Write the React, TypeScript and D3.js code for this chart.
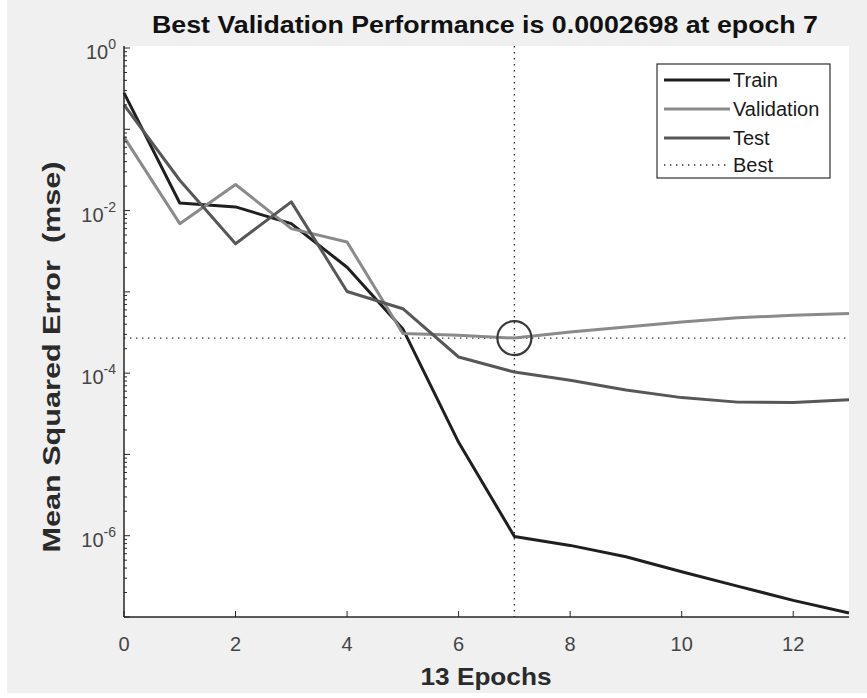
import React from "react";
import * as d3 from "d3";

const epochs = [0, 1, 2, 3, 4, 5, 6, 7, 8, 9, 10, 11, 12, 13];
const trainMse = [0.28, 0.0124, 0.0111, 0.0069, 0.00201, 0.00035, 1.41e-5, 9.8e-7, 7.6e-7, 5.5e-7, 3.6e-7, 2.4e-7, 1.6e-7, 1.12e-7];
const validationMse = [0.08, 0.0069, 0.0209, 0.006, 0.0041, 3.07e-4, 2.92e-4, 2.698e-4, 3.2e-4, 3.7e-4, 4.27e-4, 4.8e-4, 5.15e-4, 5.4e-4];
const testMse = [0.2, 0.0236, 0.0039, 0.0128, 0.00101, 6.2e-4, 1.58e-4, 1.03e-4, 8.2e-5, 6.2e-5, 5.0e-5, 4.4e-5, 4.35e-5, 4.7e-5];
const bestEpoch = 7;
const bestValue = 0.0002698;
const xTicks = [0, 2, 4, 6, 8, 10, 12];
const yTickExponents = [0, -2, -4, -6];
const legendLabels = ["Train", "Validation", "Test", "Best"];
const titleText = "Best Validation Performance is 0.0002698 at epoch 7";
const xLabelText = "13 Epochs";
const yLabelText = "Mean Squared Error  (mse)";

const W = 867;
const H = 698;
const L = 124, R = 849, T = 48, B = 617;

export default function App() {
  const x = d3.scaleLinear().domain([0, 13]).range([L, R]);
  const y = d3.scaleLog().domain([1e-7, 1]).range([B, T]);
  const line = d3
    .line<number>()
    .x((_, i) => x(epochs[i]))
    .y((d) => y(d));

  const minorTicks: number[] = [];
  for (let e = -7; e < 0; e++) {
    for (let m = 2; m <= 9; m++) minorTicks.push(m * Math.pow(10, e));
  }
  const majorTicks = d3.range(-7, 1).map((e) => Math.pow(10, e));

  const series = [
    { data: trainMse, color: "#1f1f1f" },
    { data: validationMse, color: "#8a8a8a" },
    { data: testMse, color: "#575757" },
  ];
  const font = "Liberation Sans, Arial, Helvetica, sans-serif";
  const axisColor = "#262626";
  const tickText = "#454545";

  const legendRows = [80, 109, 138, 165];

  return (
    <svg
      width={W}
      height={H}
      style={{ position: "fixed", left: 0, top: 0, display: "block" }}
      fontFamily={font}
    >
      <rect x={0} y={0} width={W} height={H} fill="#ffffff" />
      <rect x={7} y={0} width={W - 7} height={693} fill="#f0f0f0" />
      <rect x={L} y={T - 2} width={R - L} height={B - T + 2} fill="#ffffff" />

      {/* best guide lines */}
      <line x1={x(bestEpoch)} x2={x(bestEpoch)} y1={T - 2} y2={B} stroke="#333" strokeWidth={1.4} strokeDasharray="1.4 4.6" />
      <line x1={L} x2={R} y1={y(bestValue)} y2={y(bestValue)} stroke="#333" strokeWidth={1.4} strokeDasharray="1.4 4.6" />

      {/* series */}
      {series.map((s, i) => (
        <path key={i} d={line(s.data) || ""} fill="none" stroke={s.color} strokeWidth={3} strokeLinejoin="round" />
      ))}
      <circle cx={x(bestEpoch)} cy={y(bestValue)} r={17} fill="none" stroke="#3a3a3a" strokeWidth={2.2} />

      {/* axes */}
      <line x1={L} x2={L} y1={T - 2} y2={B} stroke={axisColor} strokeWidth={1.5} />
      <line x1={L} x2={R} y1={B} y2={B} stroke={axisColor} strokeWidth={1.5} />
      {minorTicks.map((v, i) => (
        <line key={"mn" + i} x1={L} x2={L + 3} y1={y(v)} y2={y(v)} stroke={axisColor} strokeWidth={1} />
      ))}
      {majorTicks.map((v, i) => (
        <line key={"mj" + i} x1={L} x2={L + 6} y1={y(v)} y2={y(v)} stroke={axisColor} strokeWidth={1} />
      ))}
      {xTicks.map((t) => (
        <g key={"xt" + t}>
          <line x1={x(t)} x2={x(t)} y1={B} y2={B - 6} stroke={axisColor} strokeWidth={1} />
          <text x={x(t)} y={651} textAnchor="middle" fontSize={20} fill={tickText}>
            {t}
          </text>
        </g>
      ))}
      {yTickExponents.map((e) => (
        <text key={"yt" + e} x={116} y={y(Math.pow(10, e)) + 11} textAnchor="end" fontSize={20} fill={tickText}>
          10
          <tspan fontSize={14} dy={-10}>
            {e}
          </tspan>
        </text>
      ))}

      {/* title and labels */}
      <text x={485} y={33} textAnchor="middle" fontSize={24} fontWeight="bold" fill="#111" textLength={666} lengthAdjust="spacingAndGlyphs">
        {titleText}
      </text>
      <text x={486} y={685} textAnchor="middle" fontSize={24} fontWeight="bold" fill="#2a2a2a" textLength={131} lengthAdjust="spacingAndGlyphs">
        {xLabelText}
      </text>
      <text
        transform={`translate(60, 357) rotate(-90)`}
        textAnchor="middle"
        fontSize={24}
        fontWeight="bold"
        fill="#2a2a2a"
        textLength={391}
        lengthAdjust="spacingAndGlyphs"
        xmlSpace="preserve"
        style={{ whiteSpace: "pre" }}
      >
        {yLabelText}
      </text>

      {/* legend */}
      <rect x={657} y={64} width={173} height={114} fill="#ffffff" stroke="#303030" strokeWidth={1.2} />
      {legendLabels.map((lab, i) => (
        <g key={lab}>
          {i < 3 ? (
            <line x1={664} x2={730} y1={legendRows[i]} y2={legendRows[i]} stroke={series[i].color} strokeWidth={3} />
          ) : (
            <line x1={664} x2={730} y1={legendRows[i]} y2={legendRows[i]} stroke="#333" strokeWidth={1.4} strokeDasharray="1.4 4.6" />
          )}
          <text x={733} y={legendRows[i] + 7} fontSize={20} fill="#1a1a1a">
            {lab}
          </text>
        </g>
      ))}
    </svg>
  );
}
